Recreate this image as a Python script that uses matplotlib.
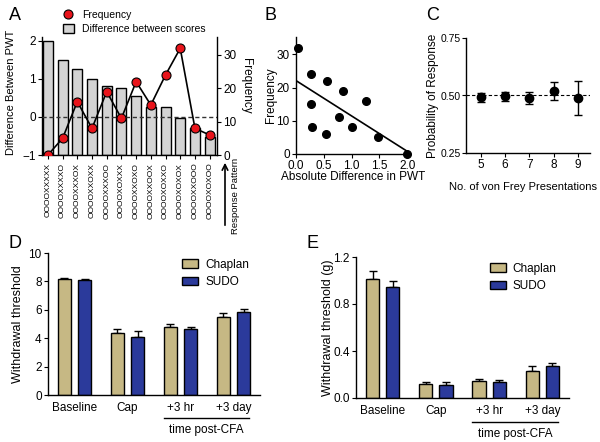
import numpy as np
import matplotlib
matplotlib.use('Agg')
import matplotlib.pyplot as plt
from matplotlib.lines import Line2D
from matplotlib.patches import Patch
import matplotlib.transforms as mtransforms

plt.rcParams['font.family'] = ['Liberation Sans', 'DejaVu Sans']
plt.rcParams['axes.linewidth'] = 1.0
plt.rcParams['xtick.direction'] = 'out'
plt.rcParams['ytick.direction'] = 'out'
plt.rcParams['xtick.major.size'] = 3
plt.rcParams['ytick.major.size'] = 3
plt.rcParams['xtick.major.pad'] = 1.5
plt.rcParams['ytick.major.pad'] = 1.5

# ---- panel A data
patterns = ['OOOOXXXXX', 'OOOOXXXXO', 'OOOOXXXOX', 'OOOOXXOXX', 'OOOOXXXOO', 'OOOOXOXXX',
            'OOOOXXOXO', 'OOOOXXOOX', 'OOOOXOXXO', 'OOOOXOXOX', 'OOOOXXOOO', 'OOOOXOXOO']
diff_pwt = [2.0, 1.5, 1.25, 1.0, 0.82, 0.75, 0.54, 0.26, 0.26, -0.04, -0.3, -0.54]
frequency = [0, 5, 16, 8, 19, 11, 22, 15, 24, 32, 8, 6]

# ---- panel B data
abs_diff = [0.04, 0.27, 0.56, 0.84, 1.26, 0.27, 0.77, 1.0, 0.28, 0.54, 1.48, 2.0]
b_freq = [32, 24, 22, 19, 16, 15, 11, 8, 8, 6, 5, 0]

# ---- panel C data
n_pres = [5, 6, 7, 8, 9]
prob = [0.492, 0.496, 0.490, 0.520, 0.490]
prob_err = [0.02, 0.02, 0.025, 0.04, 0.075]

# ---- panels D / E data
timepoints = ['Baseline', 'Cap', '+3 hr', '+3 day']
chaplan_d = [8.17, 4.36, 4.82, 5.46]
chaplan_d_err = [0.1, 0.28, 0.17, 0.3]
sudo_d = [8.08, 4.07, 4.66, 5.86]
sudo_d_err = [0.1, 0.42, 0.16, 0.21]
chaplan_e = [1.015, 0.117, 0.145, 0.231]
chaplan_e_err = [0.062, 0.02, 0.017, 0.04]
sudo_e = [0.944, 0.114, 0.137, 0.271]
sudo_e_err = [0.048, 0.023, 0.014, 0.031]

khaki = '#C6B884'
blue = '#2B3A9B'
red = '#E8141B'
grey = '#D4D4D4'

W, H = 600, 442
fig = plt.figure(figsize=(6, 4.42), dpi=100)


def rect(l, t, r, b):
    return [l / W, 1 - b / H, (r - l) / W, (b - t) / H]


def letter(x, y, s):
    fig.text(x / W, 1 - y / H, s, fontsize=13, ha='center', va='center')


# ---------------- A
ax = fig.add_axes(rect(42, 37, 217, 155))
x = np.arange(len(patterns))
ax.bar(x, np.array(diff_pwt) + 1, bottom=-1, width=0.68, color=grey,
       edgecolor='black', linewidth=1, zorder=2)
ax.axhline(0, color='#333333', lw=1, ls=(0, (3, 2)), zorder=3)
ax.set_xlim(-0.4, 11.5)
ax.set_ylim(-1, 2.1)
ax.set_yticks([-1, 0, 1, 2])
ax.set_xticks(x)
ax.set_xticklabels(patterns, rotation=90, fontsize=6)
ax.tick_params(axis='x', pad=2.5)
ax.tick_params(axis='y', labelsize=8.5)
ax.set_ylabel('Difference Between PWT', fontsize=8)
ax.yaxis.set_label_coords(-0.15, 0.534)
ax.spines['top'].set_visible(False)
ax.spines['right'].set_visible(False)

ax2 = ax.twinx()
ax2.plot(x, frequency, color='black', lw=1.2, marker='o', markersize=6.5,
         markerfacecolor=red, markeredgecolor='black', markeredgewidth=0.8, zorder=4)
ax2.set_ylim(0, 35.4)
ax2.set_yticks([0, 10, 20, 30])
ax2.tick_params(axis='y', labelsize=8.5)
ax2.spines['top'].set_visible(False)
ax2.spines['left'].set_visible(False)
ax2.spines['bottom'].set_visible(False)
ax2.set_ylabel('Frequency', fontsize=8.5, rotation=270, va='center')
ax2.yaxis.set_label_coords(1.166, 0.585)

handles = [Line2D([], [], marker='o', ls='none', markersize=6.5, markerfacecolor=red,
                  markeredgecolor='black', markeredgewidth=0.8),
           Patch(facecolor=grey, edgecolor='black', linewidth=1)]
fig.legend(handles, ['Frequency', 'Difference between scores'], loc='upper left',
           bbox_to_anchor=(58 / W, 1 - 5 / H), frameon=False, fontsize=7.5,
           handlelength=1.0, handleheight=0.9, handletextpad=0.8, labelspacing=0.4,
           borderpad=0)

fig.text(236 / W, 1 - 196 / H, 'Response Pattern', rotation=90, fontsize=6.8,
         ha='center', va='center')
ax.annotate('', xy=(225 / W, 1 - 160 / H), xytext=(225 / W, 1 - 228 / H),
            xycoords='figure fraction', textcoords='figure fraction',
            arrowprops=dict(arrowstyle='->', lw=1.2, color='black'))
letter(15, 15, 'A')

# ---------------- B
axb = fig.add_axes(rect(296, 37, 410, 154))
axb.plot(abs_diff, b_freq, 'o', color='black', markersize=5.5, clip_on=False, zorder=3)
slope, icpt = np.polyfit(abs_diff, b_freq, 1)
xs = np.array([0, 2.0])
axb.plot(xs, slope * xs + icpt, color='black', lw=1.2)
axb.set_xlim(0, 2.05)
axb.set_ylim(0, 35.2)
axb.set_xticks([0, 0.5, 1.0, 1.5, 2.0])
axb.set_xticklabels(['0.0', '0.5', '1.0', '1.5', '2.0'])
axb.set_yticks([0, 10, 20, 30])
axb.tick_params(labelsize=8.5)
axb.set_xlabel('Absolute Difference in PWT', fontsize=8.5)
axb.xaxis.set_label_coords(0.5, -0.145)
axb.set_ylabel('Frequency', fontsize=8.5)
axb.yaxis.set_label_coords(-0.167, 0.5)
for s in ['top', 'right']:
    axb.spines[s].set_visible(False)
letter(270, 15, 'B')

# ---------------- C
axc = fig.add_axes(rect(466, 38, 590, 153))
axc.axhline(0.5, color='black', lw=0.8, ls=(0, (3, 2)))
axc.errorbar(n_pres, prob, yerr=prob_err, fmt='o', color='black', markersize=6,
             capsize=3, elinewidth=1, capthick=1)
axc.set_xlim(4.4, 9.5)
axc.set_ylim(0.25, 0.75)
axc.set_xticks(n_pres)
axc.set_yticks([0.25, 0.5, 0.75])
axc.set_yticklabels(['0.25', '0.50', '0.75'])
axc.tick_params(axis='x', labelsize=8.5)
axc.tick_params(axis='y', labelsize=7.5, pad=1)
axc.set_xlabel('No. of von Frey Presentations', fontsize=8)
axc.xaxis.set_label_coords(0.46, -0.25)
axc.set_ylabel('Probability of Response', fontsize=8.5)
axc.yaxis.set_label_coords(-0.215, 0.5)
for s in ['top', 'right']:
    axc.spines[s].set_visible(False)
letter(433, 15, 'C')


# ---------------- D / E
def bar_panel(axp, ch, ch_err, su, su_err, ylim, yticks, yfmt, ylabel, ylab_x,
              line_y, text_y, leg_anchor):
    g = np.arange(len(timepoints))
    axp.bar(g - 0.19, ch, width=0.25, color=khaki, edgecolor='black', linewidth=1,
            label='Chaplan', zorder=2)
    axp.bar(g + 0.19, su, width=0.25, color=blue, edgecolor='black', linewidth=1,
            label='SUDO', zorder=2)
    axp.errorbar(g - 0.19, ch, yerr=[np.zeros(len(ch)), ch_err], fmt='none',
                 ecolor='black', elinewidth=1, capsize=3, capthick=1, zorder=1)
    axp.errorbar(g + 0.19, su, yerr=[np.zeros(len(su)), su_err], fmt='none',
                 ecolor='black', elinewidth=1, capsize=3, capthick=1, zorder=1)
    axp.set_xlim(-0.5, 3.5)
    axp.set_ylim(*ylim)
    axp.set_yticks(yticks)
    axp.set_yticklabels([yfmt.format(v) for v in yticks])
    axp.set_xticks(g)
    axp.set_xticklabels(timepoints)
    axp.tick_params(axis='x', length=0, pad=5, labelsize=8.5)
    axp.tick_params(axis='y', labelsize=8.5)
    axp.set_ylabel(ylabel, fontsize=9)
    axp.yaxis.set_label_coords(ylab_x, 0.5)
    for s in ['top', 'right']:
        axp.spines[s].set_visible(False)
    tr = mtransforms.blended_transform_factory(axp.transData, axp.transAxes)
    axp.add_line(Line2D([1.68, 3.3], [line_y, line_y], transform=tr, color='black',
                        lw=1, clip_on=False))
    axp.text(2.49, text_y, 'time post-CFA', transform=tr, ha='center', va='center',
             fontsize=8.5)
    axp.legend(loc='upper left', bbox_to_anchor=leg_anchor, frameon=False, fontsize=8.5,
               handlelength=1.35, handleheight=0.75, handletextpad=0.6, labelspacing=0.45,
               borderpad=0)


axd = fig.add_axes(rect(48, 253, 260, 395))
bar_panel(axd, chaplan_d, chaplan_d_err, sudo_d, sudo_d_err, (0, 10), [0, 2, 4, 6, 8, 10],
          '{:g}', 'Withdrawal threshold', -0.113, -0.165, -0.247, (0.605, 1.0))
letter(15, 243, 'D')

axe = fig.add_axes(rect(356, 257, 569, 398))
bar_panel(axe, chaplan_e, chaplan_e_err, sudo_e, sudo_e_err, (0, 1.2), [0, 0.4, 0.8, 1.2],
          '{:.1f}', 'Withdrawal threshold (g)', -0.103, -0.171, -0.254, (0.60, 1.0))
letter(312, 243, 'E')

fig.savefig('out.png', dpi=100)
